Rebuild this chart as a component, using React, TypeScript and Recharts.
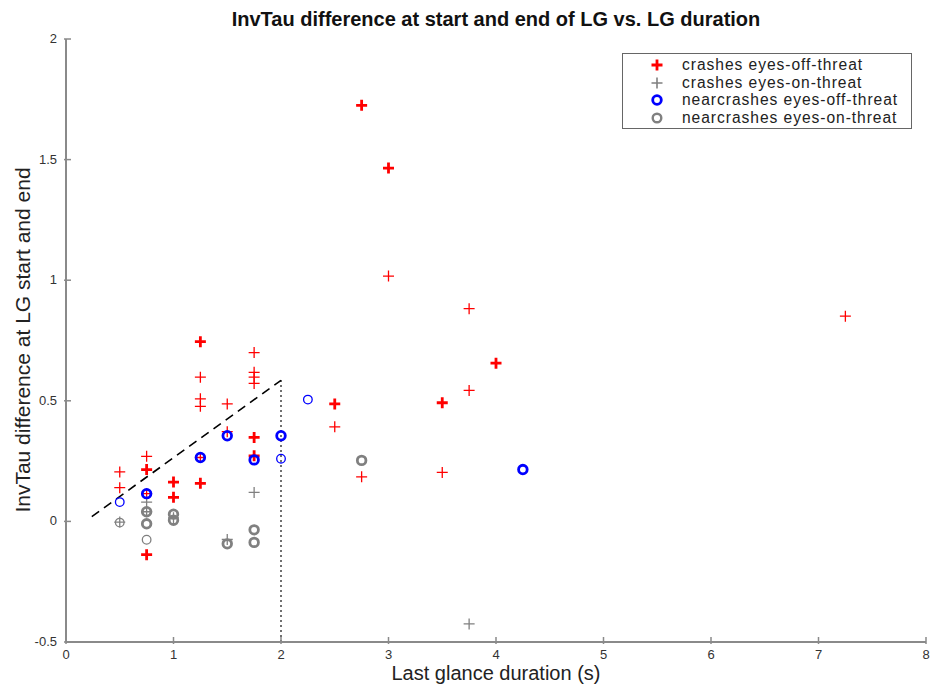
import React from "react"
import { ScatterChart, Scatter, XAxis, YAxis, ReferenceLine } from "recharts"

const xTicks = [0, 1, 2, 3, 4, 5, 6, 7, 8]
const yTicks = [-0.5, 0, 0.5, 1, 1.5, 2]

// repeated entries = several cases on the same spot (drawn heavier)
const crashesOffThreat = [
  { x: 0.5, y: 0.205 }, { x: 0.5, y: 0.14 },
  { x: 0.75, y: 0.27 }, { x: 0.75, y: 0.215 }, { x: 0.75, y: 0.215 },
  { x: 0.75, y: 0.115 }, { x: 0.75, y: -0.138 }, { x: 0.75, y: -0.138 },
  { x: 1, y: 0.163 }, { x: 1, y: 0.163 }, { x: 1, y: 0.1 }, { x: 1, y: 0.1 },
  { x: 1.25, y: 0.745 }, { x: 1.25, y: 0.745 }, { x: 1.25, y: 0.598 },
  { x: 1.25, y: 0.508 }, { x: 1.25, y: 0.477 }, { x: 1.25, y: 0.265 },
  { x: 1.25, y: 0.158 }, { x: 1.25, y: 0.158 },
  { x: 1.5, y: 0.487 }, { x: 1.5, y: 0.372 },
  { x: 1.75, y: 0.7 }, { x: 1.75, y: 0.618 }, { x: 1.75, y: 0.598 }, { x: 1.75, y: 0.572 },
  { x: 1.75, y: 0.348 }, { x: 1.75, y: 0.348 }, { x: 1.75, y: 0.272 }, { x: 1.75, y: 0.272 },
  { x: 2.5, y: 0.487 }, { x: 2.5, y: 0.487 }, { x: 2.5, y: 0.392 },
  { x: 2.75, y: 1.725 }, { x: 2.75, y: 1.725 }, { x: 2.75, y: 0.185 },
  { x: 3, y: 1.465 }, { x: 3, y: 1.465 }, { x: 3, y: 1.017 },
  { x: 3.5, y: 0.492 }, { x: 3.5, y: 0.492 }, { x: 3.5, y: 0.203 },
  { x: 3.75, y: 0.882 }, { x: 3.75, y: 0.543 },
  { x: 4, y: 0.656 }, { x: 4, y: 0.656 },
  { x: 7.25, y: 0.851 },
]

const crashesOnThreat = [
  { x: 0.5, y: -0.003 }, { x: 0.75, y: 0.08 }, { x: 0.75, y: 0.04 },
  { x: 1, y: 0.015 }, { x: 1.5, y: -0.075 }, { x: 1.75, y: 0.12 }, { x: 3.75, y: -0.425 },
]

const nearcrashesOffThreat = [
  { x: 0.5, y: 0.08 },
  { x: 0.75, y: 0.115 }, { x: 0.75, y: 0.115 },
  { x: 1.25, y: 0.265 }, { x: 1.25, y: 0.265 },
  { x: 1.5, y: 0.355 }, { x: 1.5, y: 0.355 },
  { x: 1.75, y: 0.255 }, { x: 1.75, y: 0.255 },
  { x: 2, y: 0.355 }, { x: 2, y: 0.355 }, { x: 2, y: 0.26 },
  { x: 2.25, y: 0.505 },
  { x: 4.25, y: 0.215 }, { x: 4.25, y: 0.215 },
]

const nearcrashesOnThreat = [
  { x: 0.5, y: -0.005 },
  { x: 0.75, y: 0.04 }, { x: 0.75, y: 0.04 }, { x: 0.75, y: -0.01 }, { x: 0.75, y: -0.01 },
  { x: 0.75, y: -0.076 },
  { x: 1, y: 0.03 }, { x: 1, y: 0.03 }, { x: 1, y: 0.005 }, { x: 1, y: 0.005 },
  { x: 1.5, y: -0.093 }, { x: 1.5, y: -0.093 },
  { x: 1.75, y: -0.035 }, { x: 1.75, y: -0.035 }, { x: 1.75, y: -0.087 }, { x: 1.75, y: -0.087 },
  { x: 2.75, y: 0.253 }, { x: 2.75, y: 0.253 },
]

const dashedGuide = [{ x: 0.24, y: 0.02 }, { x: 2, y: 0.585 }]
const dottedGuide = [{ x: 2, y: 0.585 }, { x: 2, y: -0.5 }]

const RED = "#ff0000"
const GRAY = "#808080"
const BLUE = "#0000ff"
const AXIS = "#8a8a8a"
const FONT = "'Liberation Sans', Arial, Helvetica, sans-serif"

type Pt = { x: number; y: number }

function countPoints(points: Pt[]) {
  const map = new Map<string, Pt & { n: number }>()
  points.forEach((p) => {
    const key = `${p.x}|${p.y}`
    const hit = map.get(key)
    if (hit) hit.n += 1
    else map.set(key, { ...p, n: 1 })
  })
  return Array.from(map.values())
}

function PlusMark({ cx, cy, color, width }: { cx: number; cy: number; color: string; width: number }) {
  const s = 5.5
  return (
    <path
      d={`M${cx - s},${cy}H${cx + s}M${cx},${cy - s}V${cy + s}`}
      stroke={color}
      strokeWidth={width}
      fill="none"
    />
  )
}

function RingMark({ cx, cy, color, width }: { cx: number; cy: number; color: string; width: number }) {
  return <circle cx={cx} cy={cy} r={4.3} stroke={color} strokeWidth={width} fill="none" />
}

const weight = (p: any) => ((p.payload?.n ?? p.n ?? 1) > 1 ? 2.8 : 1.3)

function XTick({ x, y, payload }: any) {
  return (
    <g>
      <line x1={x} x2={x} y1={y} y2={y - 7} stroke={AXIS} strokeWidth={1.5} />
      <text x={x} y={y + 15} textAnchor="middle" fill="#333" fontSize={13} fontFamily={FONT}>
        {payload.value}
      </text>
    </g>
  )
}

function YTick({ x, y, payload }: any) {
  return (
    <g>
      <line x1={x} x2={x + 7} y1={y} y2={y} stroke={AXIS} strokeWidth={1.5} />
      <text x={x - 7} y={y + 4} textAnchor="end" fill="#333" fontSize={13} fontFamily={FONT}>
        {payload.value}
      </text>
    </g>
  )
}

const legendItems = [
  { label: "crashes eyes-off-threat", kind: "plus", color: RED, width: 2.8 },
  { label: "crashes eyes-on-threat", kind: "plus", color: GRAY, width: 1.6 },
  { label: "nearcrashes eyes-off-threat", kind: "ring", color: BLUE, width: 2.8 },
  { label: "nearcrashes eyes-on-threat", kind: "ring", color: GRAY, width: 2.4 },
]

function LegendBox() {
  return (
    <div
      style={{
        position: "absolute",
        left: 622,
        top: 53,
        width: 290,
        height: 76,
        border: "1.5px solid #666",
        background: "#fff",
        boxSizing: "border-box",
        paddingTop: 2,
      }}
    >
      {legendItems.map((it) => (
        <div key={it.label} style={{ display: "flex", alignItems: "center", height: 17.6 }}>
          <svg width={59} height={17} style={{ flex: "none" }}>
            {it.kind === "plus" ? (
              <PlusMark cx={34} cy={9} color={it.color} width={it.width} />
            ) : (
              <RingMark cx={34} cy={9} color={it.color} width={it.width} />
            )}
          </svg>
          <span
            style={{
              fontFamily: FONT,
              fontSize: 15.6,
              letterSpacing: 0.95,
              lineHeight: 1,
              color: "#222",
              whiteSpace: "nowrap",
            }}
          >
            {it.label}
          </span>
        </div>
      ))}
    </div>
  )
}

export default function App() {
  return (
    <div style={{ position: "absolute", left: 0, top: 0, width: 931, height: 684, background: "#fff" }}>
      <ScatterChart width={931} height={684} margin={{ top: 39, right: 5, bottom: 0, left: 0 }}>
        <XAxis
          type="number"
          dataKey="x"
          domain={[0, 8]}
          ticks={xTicks}
          interval={0}
          height={42}
          tickSize={0}
          tickLine={false}
          axisLine={{ stroke: AXIS, strokeWidth: 2 }}
          tick={(p: any) => <XTick {...p} />}
        />
        <YAxis
          type="number"
          dataKey="y"
          domain={[-0.5, 2]}
          ticks={yTicks}
          interval={0}
          width={66}
          tickSize={0}
          tickLine={false}
          axisLine={{ stroke: AXIS, strokeWidth: 2 }}
          tick={(p: any) => <YTick {...p} />}
        />
        <ReferenceLine
          segment={dashedGuide}
          stroke="#000"
          strokeWidth={1.6}
          strokeDasharray="9 6"
          ifOverflow="visible"
        />
        <ReferenceLine
          segment={dottedGuide}
          stroke="#000"
          strokeWidth={1.5}
          strokeDasharray="1.5 3.5"
          ifOverflow="visible"
        />
        <Scatter
          data={countPoints(crashesOffThreat)}
          isAnimationActive={false}
          shape={(p: any) => <PlusMark cx={p.cx} cy={p.cy} color={RED} width={weight(p)} />}
        />
        <Scatter
          data={countPoints(crashesOnThreat)}
          isAnimationActive={false}
          shape={(p: any) => <PlusMark cx={p.cx} cy={p.cy} color={GRAY} width={weight(p)} />}
        />
        <Scatter
          data={countPoints(nearcrashesOffThreat)}
          isAnimationActive={false}
          shape={(p: any) => <RingMark cx={p.cx} cy={p.cy} color={BLUE} width={weight(p)} />}
        />
        <Scatter
          data={countPoints(nearcrashesOnThreat)}
          isAnimationActive={false}
          shape={(p: any) => <RingMark cx={p.cx} cy={p.cy} color={GRAY} width={weight(p)} />}
        />
      </ScatterChart>

      <div
        style={{
          position: "absolute",
          left: 66,
          top: 9,
          width: 860,
          textAlign: "center",
          fontFamily: FONT,
          fontWeight: "bold",
          fontSize: 20,
          lineHeight: 1,
          color: "#111",
        }}
      >
        InvTau difference at start and end of LG vs. LG duration
      </div>
      <div
        style={{
          position: "absolute",
          left: 66,
          top: 663,
          width: 860,
          textAlign: "center",
          fontFamily: FONT,
          fontSize: 20,
          lineHeight: 1,
          color: "#222",
        }}
      >
        Last glance duration (s)
      </div>
      <div
        style={{
          position: "absolute",
          left: 22,
          top: 340,
          transform: "translate(-50%, -50%) rotate(-90deg)",
          whiteSpace: "nowrap",
          fontFamily: FONT,
          fontSize: 21,
          lineHeight: 1,
          color: "#222",
        }}
      >
        InvTau difference at LG start and end
      </div>
      <LegendBox />
    </div>
  )
}
